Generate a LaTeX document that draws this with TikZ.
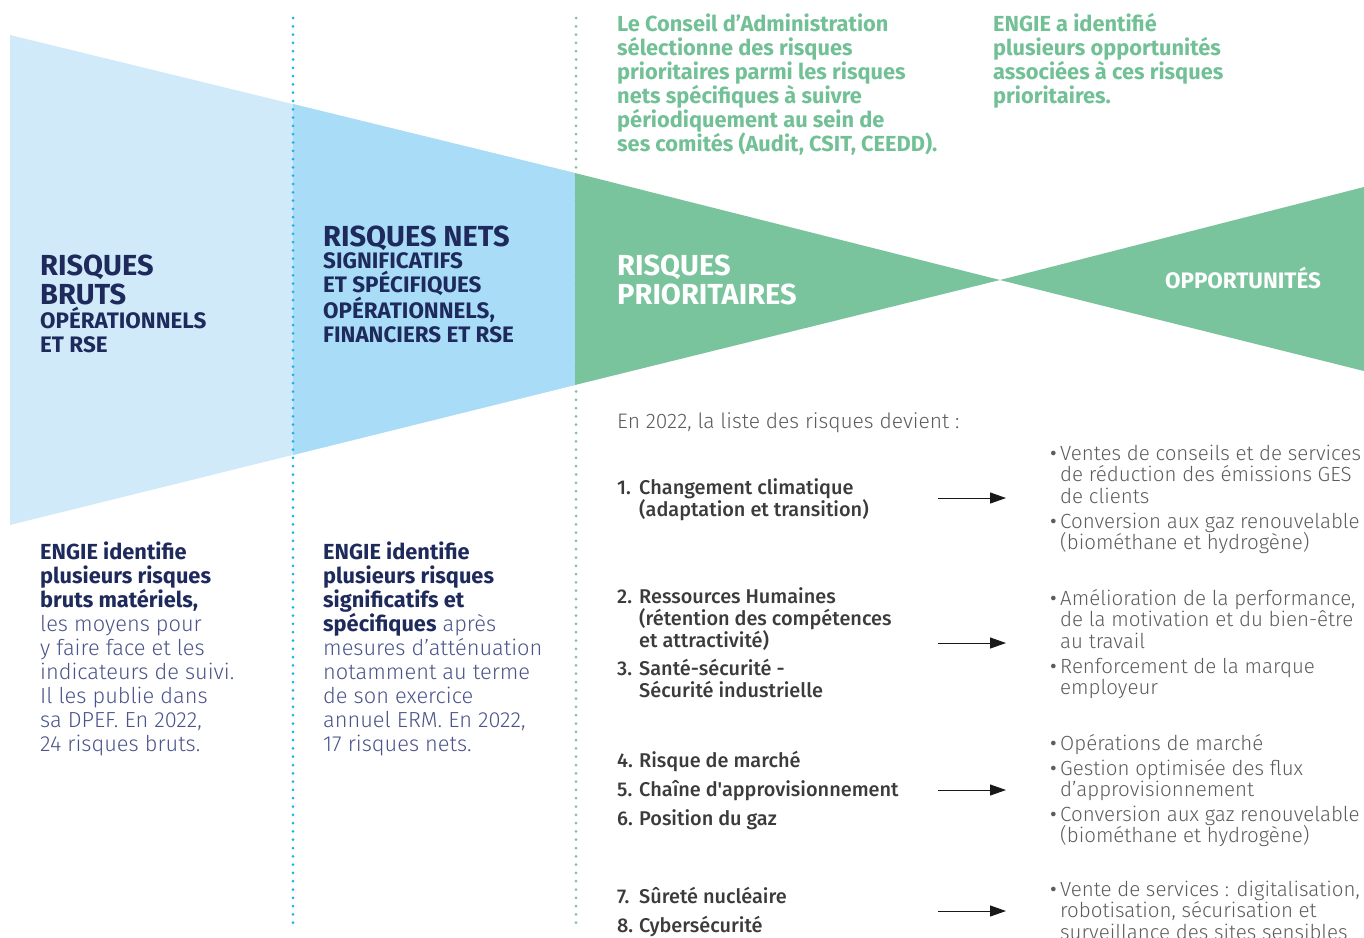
\documentclass[tikz,border=0pt]{standalone}
\usepackage{fontspec}
\setmainfont{Fira Sans}
\newfontfamily\lightfont{Fira Sans Light}
\newfontfamily\semifont{Fira Sans Medium}
\usetikzlibrary{arrows.meta, positioning}
\definecolor{paleblue}{HTML}{D0EAFA}
\definecolor{midblue}{HTML}{A8DCF7}
\definecolor{engiegreen}{HTML}{79C39D}
\definecolor{greentext}{HTML}{72C095}
\definecolor{navy}{HTML}{1F2A5C}
\definecolor{slate}{HTML}{4A5489}
\definecolor{dotblue}{HTML}{1BB3E6}
\definecolor{darkgray}{HTML}{3B3B3B}
\definecolor{midgray}{HTML}{5C5C5C}
\newcommand{\bd}[1]{{\normalfont\bfseries\color{navy}#1}}
\newcommand{\num}[1]{\makebox[22pt][l]{#1}}
\newcommand{\bul}{\makebox[10pt][l]{\normalfont\mdseries•}}
\newcommand{\ind}{\hspace*{10pt}}

\begin{document}
\begin{tikzpicture}[x=1pt, y=-1pt, line join=round,
	% anchor = baseline of the LAST line of a node
	txt/.style={anchor=base west, align=left, inner sep=0pt},
	bighead/.style={txt, font=\fontsize{29}{29}\selectfont\bfseries},
	subhead/.style={txt, font=\fontsize{22.4}{24}\selectfont\bfseries},
	greenhead/.style={txt, text=greentext, font=\fontsize{21.8}{24}\selectfont\bfseries},
	bodytext/.style={txt, text=slate, font=\fontsize{21.8}{24}\selectfont\lightfont},
	risk/.style={txt, text=darkgray, font=\fontsize{19.9}{22}\selectfont\semifont},
	opp/.style={txt, text=midgray, font=\fontsize{20.5}{21.5}\selectfont\lightfont},
	flow/.style={-{Triangle[length=16pt,width=11pt]}, line width=1pt, black!90},
	dots/.style={line width=3pt, line cap=round, dash pattern=on 0pt off 8.3pt}]

\useasboundingbox (0,0) rectangle (1364,937);
\clip (0,0) rectangle (1364,937);

%========================
% funnel shapes
%========================
% gross risks
\fill[paleblue] (10,35) -- (575,173) -- (575,385) -- (10,525) -- cycle;
% net risks
\fill[midblue] (293,104) -- (575,173) -- (575,385) -- (293,455) -- cycle;
% priority risks and opportunities (bow tie)
\fill[engiegreen] (575,173) -- (1000,280) -- (575,385) -- cycle;
\fill[engiegreen] (1000,280) -- (1364,187) -- (1364,371) -- cycle;

% dotted separators
\draw[dots, dotblue] (293,18) -- (293,930);
\draw[dots, engiegreen] (576,18) -- (576,930);

%========================
% headings
%========================
\node[bighead, text=navy] (bruts) at (40,304) {RISQUES\\BRUTS};
\node[subhead, text=navy] (brutssub) at (40,352) {OPÉRATIONNELS\\ET RSE};

\node[bighead, text=navy] (nets) at (323,246) {RISQUES NETS};
\node[subhead, text=navy] (netssub) at (323,342)
	{SIGNIFICATIFS\\ET SPÉCIFIQUES\\OPÉRATIONNELS,\\FINANCIERS ET RSE};

\node[bighead, text=white] (prio) at (617,304) {RISQUES\\PRIORITAIRES};
\node[subhead, text=white, anchor=base] (opport) at (1243,288) {OPPORTUNITÉS};

% green notes on top
\node[greenhead] (conseil) at (617,151) {Le Conseil d’Administration\\sélectionne des risques\\prioritaires parmi les risques\\nets spécifiques à suivre\\périodiquement au sein de\\ses comités (Audit, CSIT, CEEDD).};
\node[greenhead] (engieopp) at (993,103) {ENGIE a identifié\\plusieurs opportunités\\associées à ces risques\\prioritaires.};

%========================
% notes under the funnel
%========================
\node[bodytext] (brutsnote) at (40,751) {\bd{ENGIE identifie}\\\bd{plusieurs risques}\\\bd{bruts matériels,}\\les moyens pour\\y faire face et les\\indicateurs de suivi.\\Il les publie dans\\sa DPEF. En 2022,\\24 risques bruts.};
\node[bodytext] (netsnote) at (323,751) {\bd{ENGIE identifie}\\\bd{plusieurs risques}\\\bd{significatifs et}\\\bd{spécifiques} après\\mesures d’atténuation\\notamment au terme\\de son exercice\\annuel ERM. En 2022,\\17 risques nets.};

%========================
% risks -> opportunities
%========================
\node[txt, text=midgray, font=\fontsize{21}{22}\selectfont\lightfont] (intro) at (617,428) {En 2022, la liste des risques devient :};

\node[risk] (risk1) at (617,516) {\num{1.}Changement climatique\\\hspace*{22pt}(adaptation et transition)};
\node[risk] (risk2) at (617,647) {\num{2.}Ressources Humaines\\\hspace*{22pt}(rétention des compétences\\\hspace*{22pt}et attractivité)};
\node[risk] (risk3) at (617,697) {\num{3.}Santé-sécurité -\\\hspace*{22pt}Sécurité industrielle};
\node[risk] (risk4) at (617,767) {\num{4.}Risque de marché};
\node[risk] (risk5) at (617,796) {\num{5.}Chaîne d'approvisionnement};
\node[risk] (risk6) at (617,825) {\num{6.}Position du gaz};
\node[risk] (risk7) at (617,903) {\num{7.}Sûreté nucléaire};
\node[risk] (risk8) at (617,932) {\num{8.}Cybersécurité};

\node[opp] (opp1a) at (1050,503) {\bul Ventes de conseils et de services\\\ind de réduction des émissions GES\\\ind de clients};
\node[opp] (opp1b) at (1050,549.5) {\bul Conversion aux gaz renouvelable\\\ind (biométhane et hydrogène)};
\node[opp] (opp2a) at (1050,648) {\bul Amélioration de la performance,\\\ind de la motivation et du bien-être\\\ind au travail};
\node[opp] (opp2b) at (1050,694.5) {\bul Renforcement de la marque\\\ind employeur};
\node[opp] (opp3a) at (1050,750) {\bul Opérations de marché};
\node[opp] (opp3b) at (1050,796.5) {\bul Gestion optimisée des flux\\\ind d’approvisionnement};
\node[opp] (opp3c) at (1050,842.5) {\bul Conversion aux gaz renouvelable\\\ind (biométhane et hydrogène)};
\node[opp] (opp4) at (1050,939) {\bul Vente de services : digitalisation,\\\ind robotisation, sécurisation et\\\ind surveillance des sites sensibles};

% arrows
\foreach \i/\y in {1/498, 2/643, 3/790, 4/911} {
	\coordinate (from\i) at (938,\y);
	\coordinate (to\i) at (1006,\y);
	\draw[flow] (from\i) -- (to\i);
}

\end{tikzpicture}
\end{document}
